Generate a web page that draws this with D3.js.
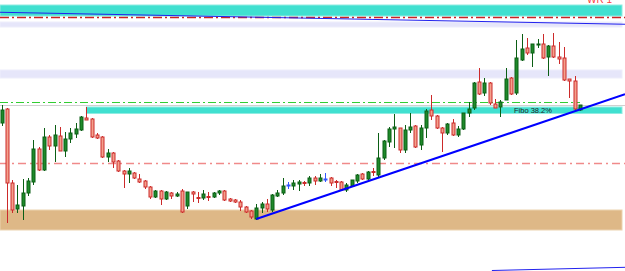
<!DOCTYPE html>
<html>
<head>
<meta charset="utf-8">
<script src="https://cdn.jsdelivr.net/npm/d3@7"></script>
<style>
  html, body { margin: 0; padding: 0; background: #ffffff; overflow: hidden; }
  #chart { width: 625px; height: 271px; }
</style>
</head>
<body>
<div id="chart"></div>
<script>
// candle prices, one entry per bar (left to right)
var opens = [97.7, 99.1, 91.7, 89.1, 89.4, 90.7, 91.8, 95.1, 93.0, 96.3,
  95.4, 96.4, 94.9, 96.1, 96.6, 97.0, 98.2, 98.1, 96.5, 96.3,
  94.3, 94.7, 93.9, 92.9, 92.6, 92.7, 92.1, 91.9, 91.3, 90.3,
  90.9, 90.1, 90.7, 90.4, 90.9, 89.4, 90.8, 90.25, 90.2, 90.35,
  90.3, 90.7, 90.9, 90.1, 90.0, 89.8, 89.3, 88.9, 88.1, 89.2,
  89.6, 89.0, 90.4, 90.7, 91.5, 91.4, 91.6, 91.75, 91.7, 92.2,
  91.9, 92.1, 92.2, 91.85, 91.8, 91.0, 91.4, 91.9, 92.6, 92.1,
  92.85, 92.5, 94.2, 95.8, 97.1, 97.2, 95.0, 97.0, 97.4, 95.5,
  97.2, 99.0, 98.4, 97.2, 96.7, 97.7, 96.5, 97.1, 98.7, 99.2,
  101.8, 100.7, 101.7, 99.6, 99.3, 100.0, 102.2, 100.7, 104.0, 105.2,
  104.7, 105.5, 105.6, 104.3, 105.4, 104.3, 104.2, 102.1, 101.9, 99.0];

var highs = [99.5, 99.2, 92.0, 91.5, 92.1, 92.2, 96.0, 95.3, 97.2, 96.5,
  97.5, 97.3, 96.8, 97.2, 97.7, 98.4, 99.3, 98.2, 96.7, 96.4,
  95.1, 94.8, 94.0, 93.0, 93.2, 92.8, 92.6, 92.0, 91.4, 91.0,
  91.0, 90.9, 90.8, 90.8, 91.1, 90.8, 90.9, 90.8, 91.0, 90.8,
  90.8, 91.0, 91.0, 90.2, 90.1, 90.0, 89.4, 89.0, 89.6, 89.8,
  90.1, 90.6, 91.0, 92.2, 91.8, 92.0, 92.0, 91.9, 92.4, 92.4,
  92.6, 92.7, 92.3, 92.0, 91.9, 91.7, 92.0, 92.6, 92.7, 92.9,
  93.2, 96.7, 96.0, 97.3, 98.6, 97.2, 97.5, 98.7, 97.5, 97.5,
  99.1, 100.5, 98.5, 97.3, 97.7, 98.1, 97.4, 98.7, 99.8, 101.8,
  103.2, 102.2, 101.8, 100.1, 100.0, 103.2, 102.3, 106.0, 106.6, 106.2,
  105.6, 106.1, 106.6, 105.5, 106.7, 105.8, 105.3, 102.1, 102.4, 99.5];

var lows = [97.4, 87.7, 88.7, 88.7, 88.0, 90.4, 91.5, 92.9, 92.9, 95.0,
  93.8, 94.9, 94.3, 95.7, 96.2, 96.9, 98.0, 96.2, 96.1, 94.2,
  93.8, 93.2, 92.8, 91.2, 91.7, 92.1, 91.7, 91.1, 90.1, 90.2,
  89.5, 90.0, 90.1, 90.3, 88.7, 89.1, 89.8, 89.7, 90.0, 89.9,
  90.2, 90.5, 89.9, 89.8, 89.7, 88.9, 88.7, 88.1, 88.0, 88.7,
  88.8, 88.8, 90.3, 90.5, 91.1, 91.0, 90.9, 91.4, 91.4, 91.5,
  91.8, 91.8, 91.4, 91.2, 90.9, 90.8, 91.3, 91.7, 92.0, 92.0,
  92.4, 92.3, 94.0, 95.3, 95.2, 94.7, 94.7, 96.7, 95.2, 95.0,
  96.2, 98.0, 97.1, 94.8, 96.5, 96.4, 96.3, 97.0, 98.3, 99.0,
  100.5, 100.4, 99.5, 99.2, 98.3, 100.0, 100.5, 100.5, 103.9, 104.5,
  103.3, 105.2, 104.1, 102.4, 104.2, 103.6, 101.9, 100.2, 99.0, 98.9];

var closes = [99.0, 91.7, 89.0, 89.5, 90.7, 91.9, 95.1, 93.0, 96.3, 95.4,
  96.5, 94.9, 96.1, 96.7, 97.1, 98.3, 98.0, 96.3, 96.2, 94.3,
  94.7, 93.8, 92.9, 92.6, 92.9, 92.2, 91.8, 91.3, 90.3, 90.9,
  90.1, 90.8, 90.4, 90.6, 88.8, 90.8, 90.6, 90.15, 90.6, 90.25,
  90.7, 90.9, 90.0, 89.9, 89.8, 89.3, 88.8, 88.3, 89.2, 89.6,
  89.1, 90.5, 90.7, 91.4, 91.5, 91.7, 91.8, 91.65, 92.2, 91.9,
  92.2, 92.1, 91.7, 91.75, 91.0, 91.5, 92.0, 92.5, 92.1, 92.8,
  92.75, 94.2, 95.9, 97.1, 97.3, 95.0, 97.0, 97.3, 95.3, 97.2,
  98.9, 98.4, 97.2, 96.7, 97.6, 96.5, 97.1, 98.7, 99.1, 101.7,
  100.6, 101.7, 99.7, 99.2, 99.8, 102.1, 100.6, 104.2, 105.1, 104.7,
  105.6, 105.6, 104.2, 105.4, 104.3, 104.1, 102.0, 101.9, 99.1, 99.5];

// price zones (rectangles)
var zoneNames = ["resistance", "lavenderHigh", "lavenderLow", "fibo", "support"];
var zoneHigh = [109.5, 107.8, 103.0, 99.3, 89.0];
var zoneLow = [108.4, 107.3, 102.2, 98.65, 87.0];
var zoneFrom = [0, 0, 0, 16, 0];
var zoneLabels = ["", "", "", "Fibo 38.2%", ""];

// horizontal levels
var levelNames = ["redTop", "green", "gray", "redMid"];
var levelPrices = [108.3, 99.8, 99.5, 93.75];

// trend lines: two anchor points each (bar index, price)
var trendNames = ["rising", "channelTop", "channelBottom"];
var trendFromIdx = [48, 0, 92.4];
var trendFromPrice = [88.1, 108.77, 82.95];
var trendToIdx = [109, 109, 109];
var trendToPrice = [99.05, 107.66, 83.16];

var width = 625;
var height = 271;
var lastIdx = opens.length - 1;

var svg = d3.select("#chart")
  .append("svg")
  .attr("width", width)
  .attr("height", height);

var xScale = d3.scaleLinear()
  .domain([0, lastIdx])
  .range([1.5, 580]);

var yScale = d3.scaleLinear()
  .domain([82.9, 110])
  .range([height, 0]);

var zoneEnd = 622;

var zoneStyle = {
  resistance: { fill: "#40e0d0", stroke: "#8fece2" },
  lavenderHigh: { fill: "#e6e6fa", stroke: "#eeeefb" },
  lavenderLow: { fill: "#e6e6fa", stroke: "#eeeefb" },
  fibo: { fill: "#40e0d0", stroke: "#8fece2" },
  support: { fill: "#deb887", stroke: "#ecd3b0" }
};

var levelStyle = {
  redTop: { color: "#cc2222", w: 1.3, dash: "9,3,2,3", x1: 0, x2: width },
  green: { color: "#32cd32", w: 1, dash: "8,3,2,3", x1: 0, x2: xScale(lastIdx) },
  gray: { color: "#d0d0d0", w: 1, dash: null, x1: 0, x2: width },
  redMid: { color: "#f08a8a", w: 1.5, dash: "8,4,2,4", x1: 0, x2: width }
};

var zones = zoneNames.map(function(n, i) {
  return { name: n, hi: zoneHigh[i], lo: zoneLow[i], from: zoneFrom[i], label: zoneLabels[i] };
});

// zones
svg.append("g").selectAll("rect")
  .data(zones)
  .enter()
  .append("rect")
  .attr("x", d => d.from === 0 ? 0 : xScale(d.from))
  .attr("y", d => yScale(d.hi))
  .attr("width", d => zoneEnd - (d.from === 0 ? 0 : xScale(d.from)))
  .attr("height", d => yScale(d.lo) - yScale(d.hi))
  .attr("fill", d => zoneStyle[d.name].fill)
  .attr("stroke", d => zoneStyle[d.name].stroke)
  .attr("stroke-width", 1);

// levels
var levels = levelNames.map(function(n, i) { return { name: n, price: levelPrices[i] }; });

svg.append("g").selectAll("line")
  .data(levels)
  .enter()
  .append("line")
  .attr("x1", d => levelStyle[d.name].x1)
  .attr("x2", d => levelStyle[d.name].x2)
  .attr("y1", d => Math.round(yScale(d.price)) + 0.5)
  .attr("y2", d => Math.round(yScale(d.price)) + 0.5)
  .attr("stroke", d => levelStyle[d.name].color)
  .attr("stroke-width", d => levelStyle[d.name].w)
  .attr("stroke-dasharray", d => levelStyle[d.name].dash);

// candles
var candles = opens.map(function(o, i) {
  return { i: i, o: o, h: highs[i], l: lows[i], c: closes[i] };
});

function candleColor(d) {
  if (d.c > d.o) return { body: "#1f8a2a", line: "#0b5e14" };
  if (d.c < d.o) return { body: "#f4a08c", line: "#cc2a2a" };
  return { body: "#3355ff", line: "#3355ff" };
}

var candleGroup = svg.append("g");

var candle = candleGroup.selectAll("g")
  .data(candles)
  .enter()
  .append("g");

candle.append("line")
  .attr("x1", d => Math.round(xScale(d.i)) + 0.5)
  .attr("x2", d => Math.round(xScale(d.i)) + 0.5)
  .attr("y1", d => yScale(d.h))
  .attr("y2", d => yScale(d.l))
  .attr("stroke", d => candleColor(d).line)
  .attr("stroke-width", 1);

candle.append("rect")
  .attr("x", d => Math.round(xScale(d.i)) - 1)
  .attr("y", d => yScale(Math.max(d.o, d.c)))
  .attr("width", 3)
  .attr("height", d => Math.max(1, yScale(Math.min(d.o, d.c)) - yScale(Math.max(d.o, d.c))))
  .attr("fill", d => candleColor(d).body)
  .attr("stroke", d => candleColor(d).line)
  .attr("stroke-width", 1);

// trend lines, extended out to the chart edges
var rightIdx = xScale.invert(width);
var leftIdx = xScale.invert(0);

var trends = trendNames.map(function(n, i) {
  var slope = (trendToPrice[i] - trendFromPrice[i]) / (trendToIdx[i] - trendFromIdx[i]);
  var startIdx = n === "channelTop" ? leftIdx : trendFromIdx[i];
  return {
    name: n,
    x1: startIdx,
    p1: trendFromPrice[i] + slope * (startIdx - trendFromIdx[i]),
    x2: rightIdx,
    p2: trendFromPrice[i] + slope * (rightIdx - trendFromIdx[i])
  };
});

svg.append("g").selectAll("line")
  .data(trends)
  .enter()
  .append("line")
  .attr("x1", d => xScale(d.x1))
  .attr("y1", d => yScale(d.p1))
  .attr("x2", d => xScale(d.x2))
  .attr("y2", d => yScale(d.p2))
  .attr("stroke", d => d.name === "rising" ? "#0000ff" : "#2222ee")
  .attr("stroke-width", d => d.name === "rising" ? 2 : 1);

// zone labels
svg.append("g").selectAll("text")
  .data(zones.filter(d => d.label))
  .enter()
  .append("text")
  .attr("x", 514)
  .attr("y", d => yScale(d.lo) - 0.5)
  .attr("font-family", "Liberation Sans, Arial, sans-serif")
  .attr("font-size", "7.5px")
  .attr("fill", "#222")
  .text(d => d.label);

// clipped label at the top edge
svg.append("text")
  .attr("x", 587)
  .attr("y", 2.5)
  .attr("font-family", "Liberation Sans, Arial, sans-serif")
  .attr("font-size", "10px")
  .attr("fill", "#ff4040")
  .text("WR 1");
</script>
</body>
</html>
